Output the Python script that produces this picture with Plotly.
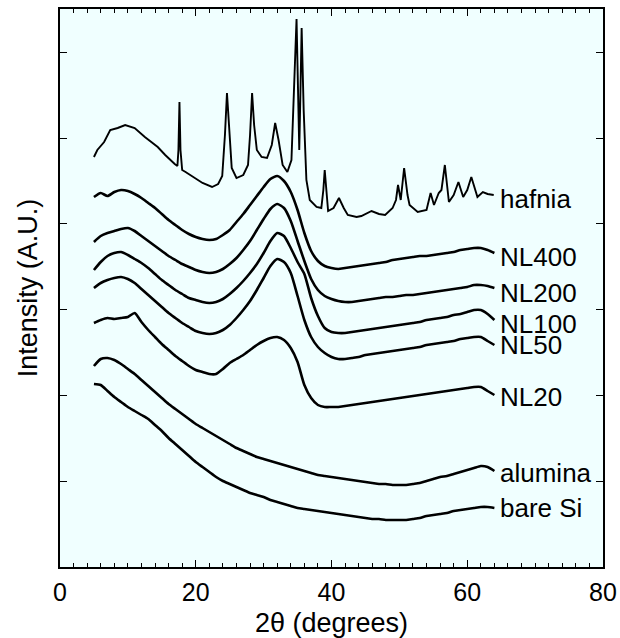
import plotly.graph_objects as go

# 2-theta sample grid (degrees) for the broad amorphous patterns
two_theta = list(range(5, 65))

# Offset intensities (arbitrary units)
nl400 = [370, 374, 371, 375, 377, 376, 373, 369, 364, 359, 353, 347, 342, 337, 333, 330, 328, 327, 328, 332,
         337, 345, 353, 362, 371, 380, 388, 391, 386, 375, 357, 334, 316, 306, 301, 299, 298, 299, 300, 301,
         302, 303, 304, 305, 307, 308, 309, 310, 311, 311, 312, 313, 314, 315, 317, 318, 319, 319, 317, 314]
nl200 = [325, 331, 334, 336, 338, 339, 336, 331, 326, 321, 316, 311, 307, 303, 300, 297, 295, 294, 295, 298,
         303, 309, 317, 326, 337, 348, 358, 363, 359, 346, 326, 306, 288, 277, 271, 268, 266, 265, 265, 266,
         267, 268, 269, 270, 270, 271, 272, 272, 273, 274, 275, 276, 277, 278, 279, 280, 282, 282, 281, 279]
nl100 = [297, 305, 311, 314, 315, 312, 308, 304, 299, 293, 287, 282, 277, 273, 269, 267, 265, 264, 265, 268,
         273, 279, 286, 294, 303, 314, 326, 334, 331, 319, 305, 293, 269, 251, 239, 235, 234, 234, 235, 236,
         237, 238, 239, 240, 241, 242, 243, 244, 245, 247, 248, 249, 250, 252, 253, 255, 257, 257, 253, 247]
nl50 = [279, 284, 287, 289, 290, 288, 284, 278, 272, 266, 260, 254, 249, 244, 240, 236, 234, 233, 234, 237,
        242, 249, 257, 266, 277, 289, 301, 308, 305, 294, 271, 247, 230, 220, 214, 210, 208, 208, 209, 210,
        212, 213, 214, 215, 216, 217, 218, 219, 220, 222, 223, 224, 225, 226, 228, 229, 230, 230, 226, 222]
nl20 = [244, 247, 249, 248, 249, 250, 254, 245, 237, 230, 223, 217, 211, 206, 201, 197, 195, 193, 193, 198,
        204, 208, 212, 217, 222, 226, 229, 230, 227, 219, 205, 182, 169, 162, 160, 160, 160, 161, 162, 163,
        164, 165, 166, 167, 168, 169, 170, 171, 172, 173, 174, 175, 176, 177, 178, 179, 180, 180, 176, 172]
alumina = [201, 208, 209, 207, 203, 198, 193, 187, 181, 175, 169, 163, 158, 153, 148, 143, 139, 135, 131, 127,
           123, 119, 116, 113, 110, 108, 106, 104, 102, 100, 98, 96, 94, 92, 91, 90, 89, 88, 87, 86,
           85, 84, 83, 83, 82, 82, 82, 83, 84, 86, 88, 90, 91, 93, 95, 97, 99, 101, 100, 96]
bare_si = [183, 182, 176, 170, 165, 160, 156, 152, 148, 142, 136, 129, 123, 117, 111, 105, 100, 95, 90, 86,
           83, 80, 77, 74, 72, 70, 67, 65, 63, 61, 59, 58, 57, 56, 55, 54, 53, 52, 51, 50,
           49, 48, 48, 47, 47, 47, 47, 48, 49, 51, 52, 53, 54, 56, 57, 58, 59, 60, 60, 59]

# Crystalline hafnia pattern (own 2-theta samples to resolve the peaks)
hafnia_x = [5.0, 5.5, 6.5, 7.4, 8.5, 9.6, 11.0, 12.5, 14.4, 15.5, 16.9, 17.3, 17.45, 17.6, 17.75, 18.0, 18.5,
            19.9, 21.0, 22.4, 23.3, 23.9, 24.3, 24.6, 24.9, 25.3, 26.0, 27.0, 27.7, 28.0, 28.3, 28.6, 29.0,
            29.7, 30.5, 31.2, 31.7, 32.2, 32.8, 33.5, 34.1, 34.5, 34.85, 35.1, 35.25, 35.4, 35.6, 35.9, 36.3,
            36.8, 37.8, 38.5, 38.8, 39.0, 39.2, 39.5, 40.3, 41.1, 41.8, 42.4, 43.7, 44.4, 45.9, 47.0, 47.9,
            49.0, 49.5, 49.8, 50.2, 50.7, 51.2, 51.5, 52.7, 54.0, 54.6, 55.1, 55.8, 56.2, 56.7, 57.3, 58.0,
            58.7, 59.4, 60.0, 60.6, 61.5, 62.3, 63.0, 63.9]
hafnia_y = [410, 417, 425, 437, 439, 442, 439, 430, 420, 412, 403, 401, 417, 465, 417, 397, 395,
            389, 384, 380, 383, 391, 432, 474, 442, 399, 389, 392, 402, 432, 474, 442, 417,
            410, 409, 422, 444, 427, 402, 395, 407, 477, 548, 467, 417, 467, 539, 457, 387,
            367, 360, 359, 377, 397, 377, 356, 359, 369, 359, 352, 350, 351, 356, 353, 352,
            359, 367, 382, 367, 399, 372, 362, 355, 357, 374, 362, 374, 377, 402, 365, 372,
            385, 370, 377, 390, 370, 375, 373, 372]

# Sample labels and their vertical positions (same units)
label_names = ["hafnia", "NL400", "NL200", "NL100", "NL50", "NL20", "alumina", "bare Si"]
label_y = [368, 310, 274, 243, 222, 170, 94, 59]

x_ticks = [0, 20, 40, 60, 80]
y_tick_step = 85.8

FONT = "Liberation Sans, Arial, Helvetica, sans-serif"

fig = go.Figure()
broad = [nl400, nl200, nl100, nl50, nl20, alumina, bare_si]
for name, ys in zip(label_names[1:], broad):
    fig.add_trace(go.Scatter(x=two_theta, y=ys, mode="lines", name=name,
                             line=dict(color="black", width=2.6, shape="spline", smoothing=0.6),
                             showlegend=False))
fig.add_trace(go.Scatter(x=hafnia_x, y=hafnia_y, mode="lines", name="hafnia",
                         line=dict(color="black", width=1.9), showlegend=False))

for name, yv in zip(label_names, label_y):
    fig.add_annotation(x=64.6, y=yv, text=name, showarrow=False, xanchor="left", yanchor="middle",
                       font=dict(family=FONT, size=26, color="black"))

fig.update_layout(
    width=620, height=638,
    margin=dict(l=60, r=17, t=9, b=71),
    paper_bgcolor="white", plot_bgcolor="#F0FFFF",
    font=dict(family=FONT, size=25, color="black"),
    showlegend=False,
)
fig.update_xaxes(
    range=[0, 80], tickvals=x_ticks, ticks="inside", ticklen=7, tickwidth=1, tickcolor="black",
    minor=dict(dtick=2, ticks="inside", ticklen=4, tickcolor="black"),
    showline=True, linecolor="black", linewidth=1.5, mirror="ticks", showgrid=False, zeroline=False,
    ticklabelstandoff=2, automargin=False,
    tickfont=dict(family=FONT, size=25),
    title=dict(text="2θ (degrees)", standoff=10, font=dict(family=FONT, size=27)),
)
fig.update_yaxes(
    range=[0, 558], tick0=0, dtick=y_tick_step, ticks="inside", ticklen=7, tickcolor="black",
    showticklabels=False, automargin=False,
    showline=True, linecolor="black", linewidth=1.5, mirror="ticks", showgrid=False, zeroline=False,
    title=dict(text="Intensity (A.U.)", standoff=13, font=dict(family=FONT, size=27)),
)

fig.write_html("out.html")
